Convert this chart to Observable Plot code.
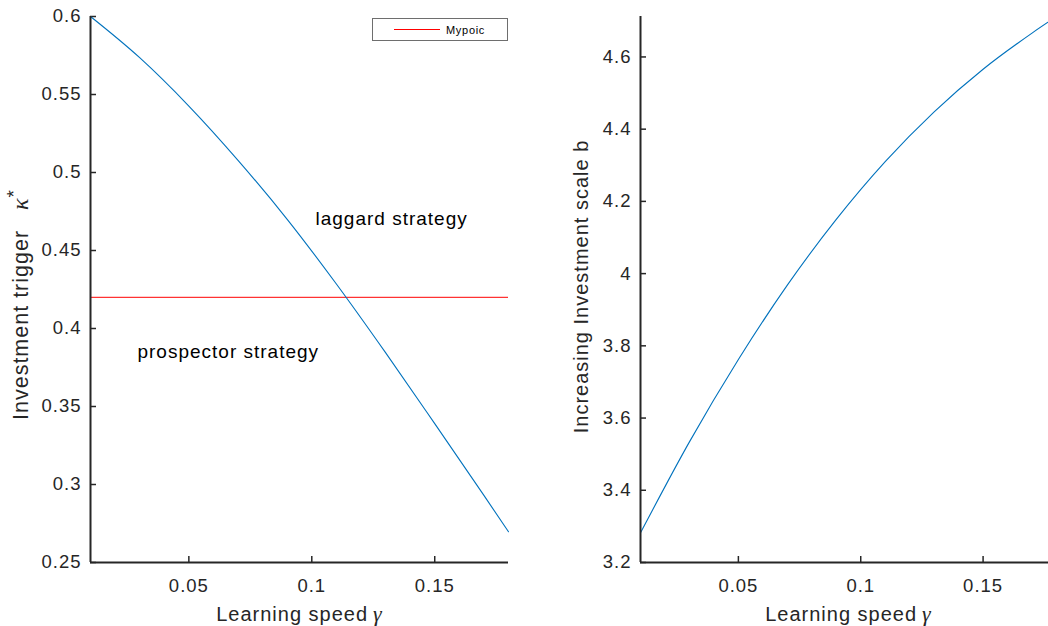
<!DOCTYPE html>
<html>
<head>
<meta charset="utf-8">
<script src="https://cdn.jsdelivr.net/npm/d3@7"></script>
<script src="https://cdn.jsdelivr.net/npm/@observablehq/plot@0.6"></script>
<style>
  html, body { margin: 0; padding: 0; background: #fff; overflow: hidden; }
  #wrap { position: relative; width: 1048px; height: 626px; overflow: hidden;
          font-family: "Liberation Sans", Arial, Helvetica, sans-serif; }
  .panel { position: absolute; top: 0; }
  #legend { position: absolute; left: 372px; top: 18px; width: 134px; height: 21px;
            border: 1px solid #6e6e6e; background: #fff; }
</style>
</head>
<body>
<div id="wrap">
  <div id="left" class="panel" style="left:0px;width:540px;"></div>
  <div id="right" class="panel" style="left:540px;width:516px;"></div>
  <div id="legend"></div>
</div>
<script>
// ---- data ----
const gammaLeft   = [0.01, 0.03, 0.05, 0.07, 0.09, 0.11, 0.13, 0.15, 0.17, 0.18];
const kappaStar   = [0.600, 0.5736, 0.5426, 0.5078, 0.4700, 0.4285, 0.3845, 0.3390, 0.2930, 0.2697];
const gammaRight  = [0.01, 0.03, 0.05, 0.07, 0.09, 0.11, 0.13, 0.15, 0.17, 0.18];
const scaleB      = [3.282, 3.534, 3.762, 3.968, 4.150, 4.310, 4.448, 4.566, 4.666, 4.712];
const myopicLevel = [0.42];
const legendLabel = "Mypoic";
const xTicks      = [0.05, 0.1, 0.15];
const kappaTicks  = [0.25, 0.3, 0.35, 0.4, 0.45, 0.5, 0.55, 0.6];
const bTicks      = [3.2, 3.4, 3.6, 3.8, 4.0, 4.2, 4.4, 4.6];
const annoText    = ["laggard strategy", "prospector strategy"];
const annoGamma   = [0.1015, 0.0291];
const annoKappa   = [0.470, 0.385];
const xLabel      = "Learning speed";
const yLabelLeft  = "Investment trigger";
const yLabelRight = "Increasing Investment scale b";

const FONT = '"Liberation Sans", Arial, Helvetica, sans-serif';
const SERIF = '"Liberation Serif", "DejaVu Serif", serif';
const AX = "#262626";
const BLUE = "#0072bd";
const fmt = d => String(Math.round(d * 100) / 100);

const leftData = gammaLeft.map((g, i) => ({g, v: kappaStar[i]}));
const rightData = gammaRight.map((g, i) => ({g, v: scaleB[i]}));
const annos = annoText.map((t, i) => ({t, g: annoGamma[i], v: annoKappa[i]}));

function panel({width, marginLeft, marginRight, xDomain, yDomain, yTicks, data, extra, yLab, yLabOffset, yLabShift, yLabSize}) {
  const height = 626, marginTop = 16, marginBottom = 64;
  const fw = width - marginLeft - marginRight, fh = height - marginTop - marginBottom;
  return Plot.plot({
    width, height, marginLeft, marginRight, marginTop, marginBottom,
    style: {fontFamily: FONT, fontSize: "18.5px", color: AX, background: "transparent", maxWidth: "none", overflow: "visible", letterSpacing: "1px"},
    x: {domain: xDomain},
    y: {domain: yDomain},
    marks: [
      Plot.axisX(xTicks, {tickSize: 0, tickPadding: 16, tickFormat: fmt, label: null}),
      Plot.axisY(yTicks, {tickSize: 0, tickPadding: 9, tickFormat: fmt, label: null}),
      Plot.tickX(xTicks, {x: d => d, insetTop: fh - 6, stroke: AX, strokeWidth: 1.5}),
      Plot.tickY(yTicks, {y: d => d, insetRight: fw - 6, stroke: AX, strokeWidth: 1.5}),
      ...extra,
      Plot.line(data, {x: "g", y: "v", stroke: BLUE, strokeWidth: 1.1, curve: "monotone-x"}),
      Plot.ruleY([yDomain[0]], {stroke: AX, strokeWidth: 2}),
      Plot.ruleX([xDomain[0]], {stroke: AX, strokeWidth: 2}),
      Plot.text([xLabel], {text: d => d, frameAnchor: "bottom", textAnchor: "middle", lineAnchor: "top", dy: 44, fontSize: 20, fill: AX}),
      Plot.text([yLab], {text: d => d, frameAnchor: "left", textAnchor: "middle", lineAnchor: "top", rotate: -90, dx: -yLabOffset, dy: yLabShift, fontSize: yLabSize, fill: AX})
    ]
  });
}

const left = panel({
  width: 540, marginLeft: 90, marginRight: 32,
  xDomain: [0.01, 0.18], yDomain: [0.25, 0.6], yTicks: kappaTicks, data: leftData,
  yLab: yLabelLeft, yLabOffset: 78, yLabShift: 15, yLabSize: 21.5,
  extra: [
    Plot.ruleY(myopicLevel, {stroke: "#ff0000", strokeWidth: 1}),
    Plot.text(annos, {x: "g", y: "v", text: "t", textAnchor: "start", fontSize: 19, fill: "#000"})
  ]
});
const right = panel({
  width: 516, marginLeft: 100, marginRight: 0,
  xDomain: [0.01, 0.18], yDomain: [3.2, 4.712], yTicks: bTicks, data: rightData,
  yLab: yLabelRight, yLabOffset: 67, yLabShift: -3, yLabSize: 20, extra: []
});

const NS = "http://www.w3.org/2000/svg";
function decorate(svg, base, parts) {
  for (const t of svg.querySelectorAll("text")) {
    if (t.textContent === base) {
      for (const p of parts) {
        const ts = document.createElementNS(NS, "tspan");
        ts.textContent = p.text;
        if (p.italic) { ts.setAttribute("font-style", "italic"); ts.setAttribute("font-family", SERIF); }
        if (p.dx != null) ts.setAttribute("dx", p.dx);
        if (p.dy != null) ts.setAttribute("dy", p.dy);
        if (p.size) ts.setAttribute("font-size", p.size);
        t.appendChild(ts);
      }
    }
  }
}
decorate(left, xLabel, [{text: "γ", italic: true, dx: 5, size: 22}]);
decorate(right, xLabel, [{text: "γ", italic: true, dx: 5, size: 22}]);
decorate(left, yLabelLeft, [{text: "κ", italic: true, dx: 20, size: 24}, {text: "*", dy: -8, size: 19}]);

document.getElementById("left").appendChild(left);
document.getElementById("right").appendChild(right);

// legend
const lg = d3.select("#legend").append("svg").attr("width", 134).attr("height", 21)
  .style("display", "block");
lg.append("line").attr("x1", 21).attr("x2", 67).attr("y1", 10.5).attr("y2", 10.5)
  .attr("stroke", "#ff0000").attr("stroke-width", 1);
lg.append("text").attr("x", 73).attr("y", 15).attr("font-size", 11)
  .attr("font-family", FONT).attr("letter-spacing", "0.7px").attr("fill", "#000").text(legendLabel);
</script>
</body>
</html>
